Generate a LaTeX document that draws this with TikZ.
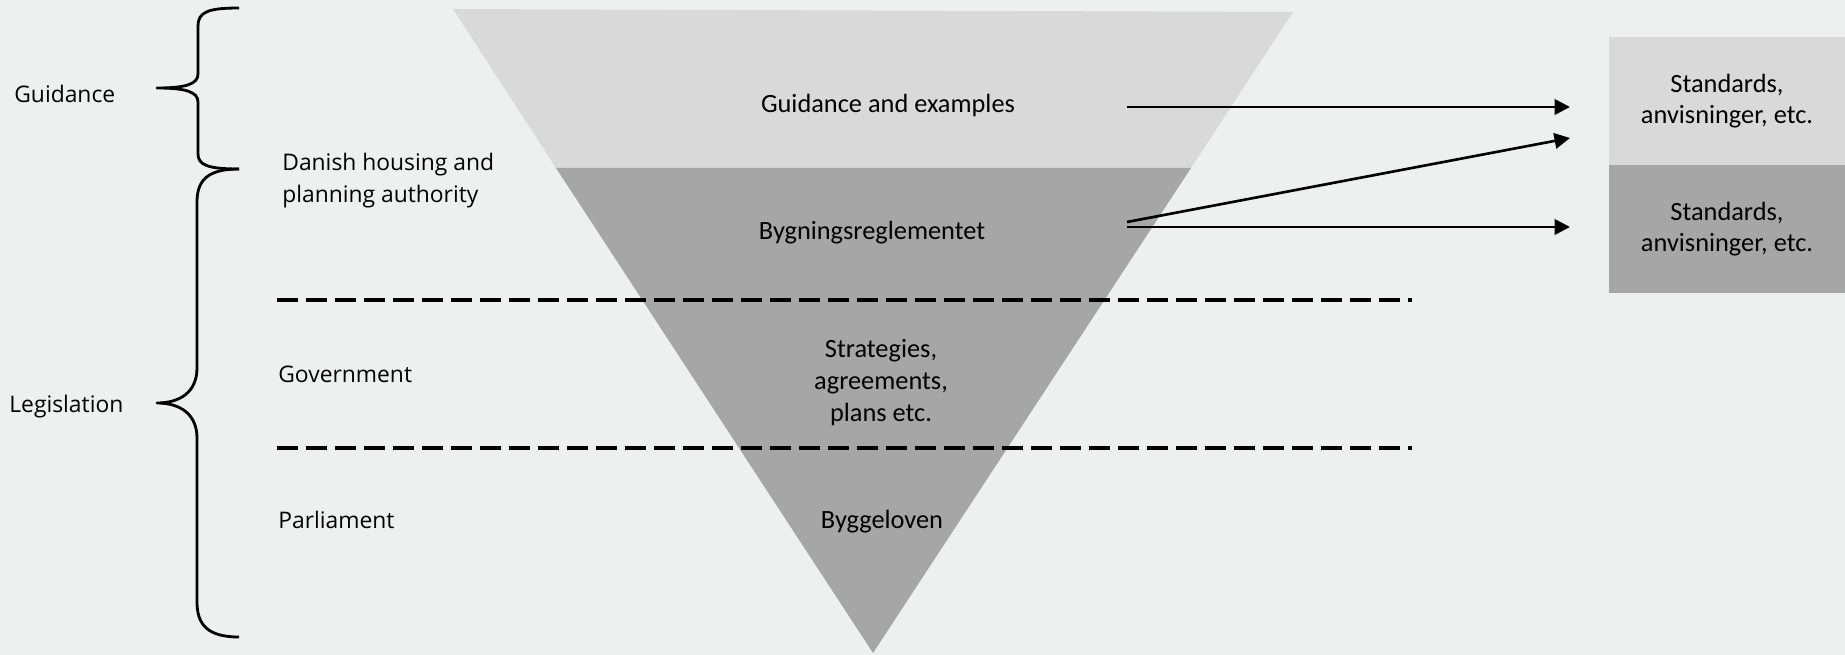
\documentclass[tikz,border=0pt]{standalone}
\usepackage{fontspec}
\setmainfont{Carlito}
\newfontfamily\sidefont{Open Sans}
\usetikzlibrary{arrows.meta,positioning}

\definecolor{bgcol}{HTML}{EEF0EF}
\definecolor{lightgrey}{HTML}{D9D9D9}
\definecolor{darkgrey}{HTML}{A6A6A6}

\tikzset{
  level/.style={inner sep=0pt, align=center, font=\fontsize{15}{18}\selectfont},
  side/.style={inner sep=0pt, anchor=west, align=left, font=\sidefont\fontsize{13}{18.5}\selectfont},
  stdbox/.style={level, minimum width=4.72cm, minimum height=2.56cm},
  link/.style={line width=1.5pt, -{Triangle[length=0.31cm,width=0.31cm]}},
  divider/.style={line width=1.9pt, dash pattern=on 0.42cm off 0.16cm},
  bracket/.style={line width=1.6pt, line join=round}
}

\begin{document}
\begin{tikzpicture}[x=0.02cm, y=-0.02cm]
  \fill[bgcol] (0,0) rectangle (1845,655);
  \useasboundingbox (0,0) rectangle (1845,655);

  % funnel
  \fill[lightgrey] (453,9) -- (1293,12) -- (1191,168) -- (556,168) -- cycle;
  \fill[darkgrey] (556,168) -- (1191,168) -- (873,653) -- cycle;

  % levels
  \draw[divider] (277,300) -- (1412,300);
  \draw[divider] (277,448) -- (1412,448);

  \node[level] (guide) at (888,105.5) {Guidance and examples};
  \node[level] (br) at (872,232.5) {Bygningsreglementet};
  \node[level] (strat) at (881,382.5) {Strategies,\\agreements,\\plans etc.};
  \node[level] (law) at (882,521.5) {Byggeloven};

  % who
  \node[side] (dhpa) at (282,180.5) {Danish housing and\\planning authority};
  \node[side] (gov) at (278,374.5) {Government};
  \node[side] (parl) at (278,519.5) {Parliament};

  % braces
  \draw[bracket] (239,8) .. controls (208,8) and (198,12) .. (198,26) -- (198,74)
    .. controls (198,84) and (186,88) .. (157,88)
    .. controls (186,88) and (198,92) .. (198,102) -- (198,154)
    .. controls (198,165) and (208,169) .. (239,169);
  \draw[bracket] (239,169) .. controls (208,169) and (197,180) .. (197,202) -- (197,368)
    .. controls (197,392) and (180,403) .. (157,403)
    .. controls (180,403) and (197,414) .. (197,438) -- (197,602)
    .. controls (197,625) and (208,637) .. (239,637);
  \node[side] (guidance) at (14,93.5) {Guidance};
  \node[side] (legis) at (9,406.5) {Legislation};

  % standards
  \node[stdbox, fill=lightgrey] (std1) at (1727,101) {Standards,\\anvisninger, etc.};
  \node[stdbox, fill=darkgrey] (std2) at (1727,229) {Standards,\\anvisninger, etc.};

  \coordinate (g1) at (1127,107);
  \coordinate (g1e) at (1570,107);
  \coordinate (b1) at (1127,222);
  \coordinate (b1e) at (1570,138);
  \coordinate (b2) at (1127,227);
  \coordinate (b2e) at (1570,227);
  \draw[link] (g1) -- (g1e);
  \draw[link] (b1) -- (b1e);
  \draw[link] (b2) -- (b2e);
\end{tikzpicture}
\end{document}
